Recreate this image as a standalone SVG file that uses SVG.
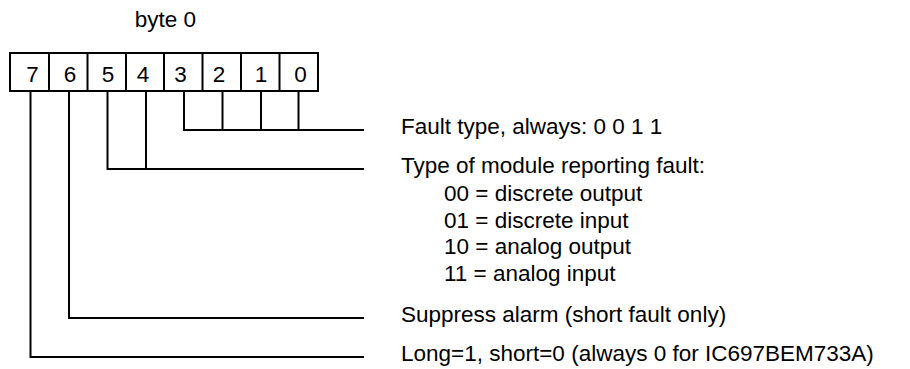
<svg xmlns="http://www.w3.org/2000/svg" width="910" height="369" viewBox="0 0 910 369">
<style>
text{font-family:"Liberation Sans",Arial,sans-serif;font-size:22.5px;fill:#000}
.d{text-anchor:middle}
.ln{fill:none;stroke:#000;stroke-width:2}
</style>
<rect width="910" height="369" fill="#fff"/>
<text x="165.5" y="27" class="d">byte 0</text>
<g id="byte0">
<rect x="10" y="53" width="308" height="38" class="ln"/>
<path class="ln" d="M49 53V91M87.5 53V91M126 53V91M164 53V91M202.5 53V91M241 53V91M279.5 53V91"/>
<text x="32.5" y="82" class="d">7</text>
<text x="70" y="82" class="d">6</text>
<text x="108" y="82" class="d">5</text>
<text x="143" y="82" class="d">4</text>
<text x="180.5" y="82" class="d">3</text>
<text x="219" y="82" class="d">2</text>
<text x="261" y="82" class="d">1</text>
<text x="300.5" y="82" class="d">0</text>
</g>
<g id="connectors">
<path class="ln" d="M184 91V130H364M222.5 91V130M261 91V130M298.5 91V130"/>
<path class="ln" d="M107.5 91V169H364M146 91V169"/>
<path class="ln" d="M69 91V318H364"/>
<path class="ln" d="M30.5 91V357H364"/>
</g>
<g id="fault-type"><text x="401" y="134">Fault type, always: 0 0 1 1</text></g>
<g id="module-type">
<text x="401" y="173">Type of module reporting fault:</text>
<text x="444" y="201">00 = discrete output</text>
<text x="444" y="227.7">01 = discrete input</text>
<text x="444" y="254.3">10 = analog output</text>
<text x="444" y="281">11 = analog input</text>
</g>
<g id="suppress"><text x="401" y="322">Suppress alarm (short fault only)</text></g>
<g id="long-short"><text x="401" y="361">Long=1, short=0 (always 0 for IC697BEM733A)</text></g>
</svg>
